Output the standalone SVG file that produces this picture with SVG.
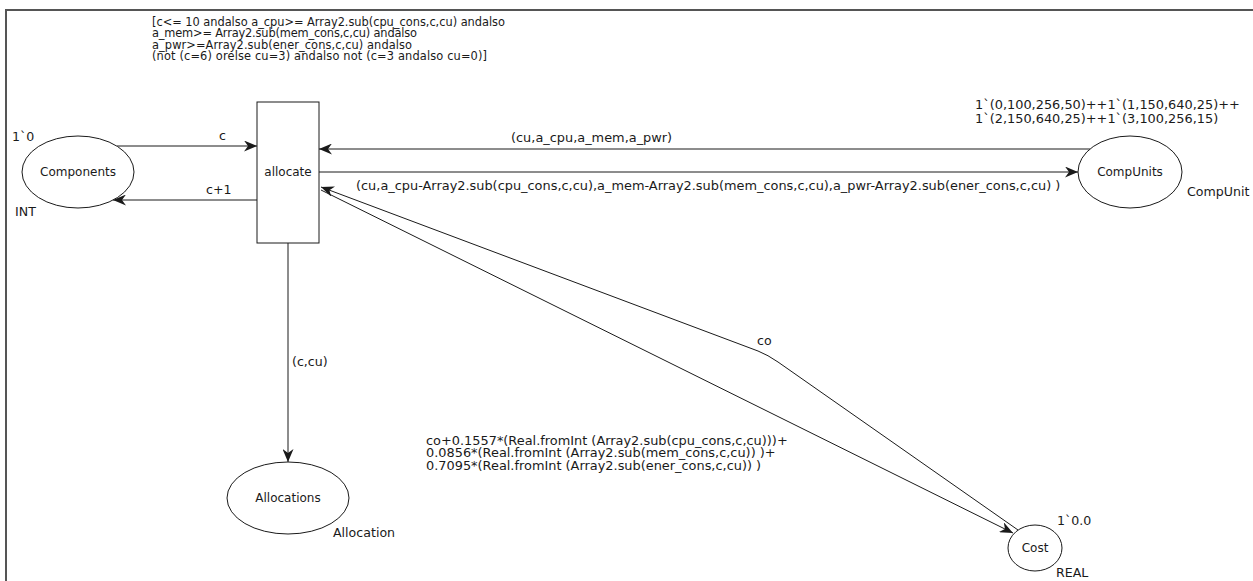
<svg xmlns="http://www.w3.org/2000/svg" width="1253" height="581" viewBox="0 0 1253 581">
<style>
text{font-family:"DejaVu Sans",Verdana,sans-serif;fill:#1a1a1a}
.n{font-size:12px;text-anchor:middle}
.a{font-size:12.6px}
.l{font-size:12.9px}
.g{font-size:11.4px}
.s{fill:#fff;stroke:#1a1a1a;stroke-width:1}
.e{fill:none;stroke:#1a1a1a;stroke-width:1}
</style>
<defs>
<marker id="ar" markerWidth="14" markerHeight="11" refX="13" refY="5.5" orient="auto" markerUnits="userSpaceOnUse">
<path d="M0,0 L13,5.5 L0,11 L4,5.5 z" fill="#1a1a1a"/>
</marker>
</defs>
<rect width="1253" height="581" fill="#fff"/>
<path d="M6,581 V10 H1253" fill="none" stroke="#555" stroke-width="2"/>
<g id="connectors">
<path class="e" d="M117,146 H257" marker-end="url(#ar)"/>
<path class="e" d="M257,200 H113" marker-end="url(#ar)"/>
<path class="e" d="M1090,149 H319" marker-end="url(#ar)"/>
<path class="e" d="M319,172 H1078" marker-end="url(#ar)"/>
<path class="e" d="M288,243 V462" marker-end="url(#ar)"/>
<path class="e" d="M1018,530 L778,362 Q768,355 758,351 L321,187" marker-end="url(#ar)"/>
<path class="e" d="M321,190 L1013,533" marker-end="url(#ar)"/>
<text class="a" x="219" y="140">c</text>
<text class="a" x="206" y="194">c+1</text>
<text class="l" x="511" y="142">(cu,a_cpu,a_mem,a_pwr)</text>
<text class="l" x="356" y="190">(cu,a_cpu-Array2.sub(cpu_cons,c,cu),a_mem-Array2.sub(mem_cons,c,cu),a_pwr-Array2.sub(ener_cons,c,cu) )</text>
<text class="a" x="292" y="366">(c,cu)</text>
<text class="a" x="757" y="345">co</text>
<text class="l" x="426" y="445">co+0.1557*(Real.fromInt (Array2.sub(cpu_cons,c,cu)))+</text>
<text class="l" x="426" y="457.3">0.0856*(Real.fromInt (Array2.sub(mem_cons,c,cu)) )+</text>
<text class="l" x="426" y="469.6">0.7095*(Real.fromInt (Array2.sub(ener_cons,c,cu)) )</text>
</g>
<g id="allocate">
<rect class="s" x="257" y="102" width="62" height="141"/>
<text class="n" x="288" y="176">allocate</text>
<text class="g" x="152" y="25.5" textLength="353" lengthAdjust="spacing">[c&lt;= 10 andalso a_cpu&gt;= Array2.sub(cpu_cons,c,cu) andalso</text>
<text class="g" x="152" y="37" textLength="265" lengthAdjust="spacing">a_mem&gt;= Array2.sub(mem_cons,c,cu) andalso</text>
<text class="g" x="152" y="48.5" textLength="260" lengthAdjust="spacing">a_pwr&gt;=Array2.sub(ener_cons,c,cu) andalso</text>
<text class="g" x="152" y="60" textLength="335" lengthAdjust="spacing">(not (c=6) orelse cu=3) andalso not (c=3 andalso cu=0)]</text>
</g>
<g id="components">
<ellipse class="s" cx="78" cy="172" rx="56" ry="36"/>
<text class="n" x="78" y="176">Components</text>
<text class="a" x="12" y="141">1`0</text>
<text class="a" x="15" y="216">INT</text>
</g>
<g id="compunits">
<ellipse class="s" cx="1130" cy="172" rx="52" ry="36"/>
<text class="n" x="1130" y="176">CompUnits</text>
<text class="l" x="975" y="109">1`(0,100,256,50)++1`(1,150,640,25)++</text>
<text class="l" x="975" y="123">1`(2,150,640,25)++1`(3,100,256,15)</text>
<text class="a" x="1187" y="196">CompUnit</text>
</g>
<g id="allocations">
<ellipse class="s" cx="288" cy="498" rx="61" ry="36"/>
<text class="n" x="288" y="502">Allocations</text>
<text class="a" x="333" y="537">Allocation</text>
</g>
<g id="cost">
<ellipse class="s" cx="1035" cy="548" rx="27" ry="23"/>
<text class="n" x="1035" y="552">Cost</text>
<text class="a" x="1057" y="525">1`0.0</text>
<text class="a" x="1056" y="577">REAL</text>
</g>
</svg>
